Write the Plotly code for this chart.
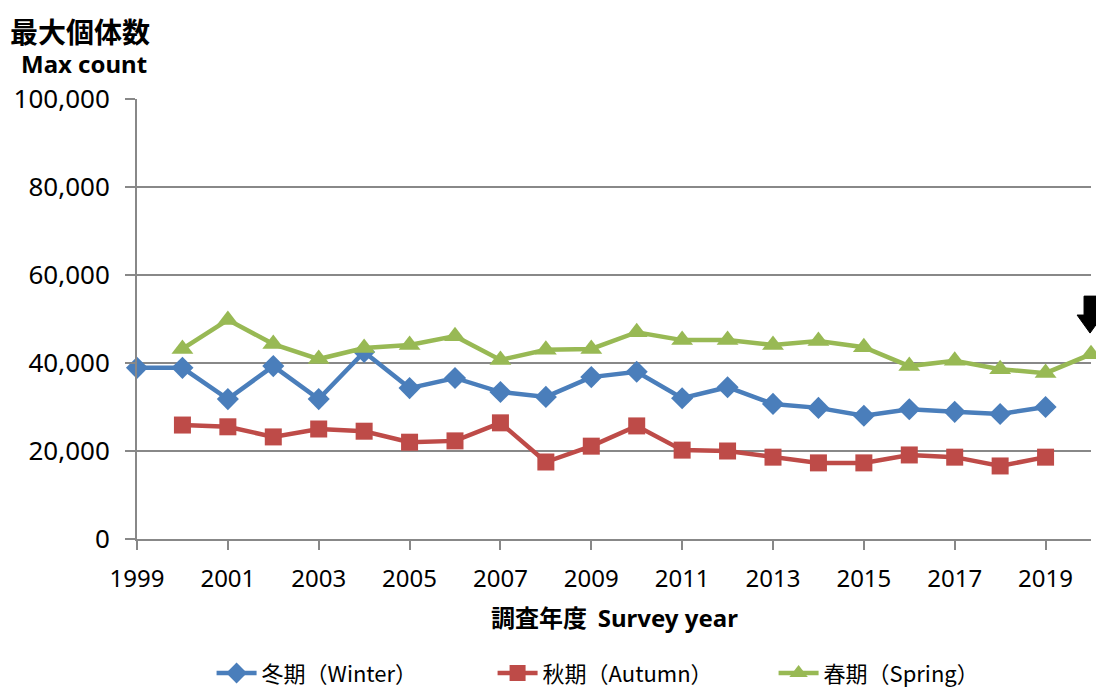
import plotly.graph_objects as go

years = list(range(1999, 2021))
winter = [38900, 38900, 31800, 39300, 31800, 42500, 34300, 36600, 33400, 32300, 36800,
          38000, 32000, 34500, 30700, 29800, 28000, 29500, 28900, 28400, 30000, None]
autumn = [None, 25900, 25500, 23200, 25000, 24500, 22000, 22300, 26400, 17500, 21100,
          25700, 20200, 20000, 18600, 17300, 17300, 19100, 18600, 16600, 18600, None]
spring = [None, 43200, 49800, 44300, 40900, 43400, 44100, 46100, 40700, 43000, 43200,
          47000, 45200, 45200, 44100, 45000, 43600, 39300, 40500, 38600, 37700, 42000]
tick_years = list(range(1999, 2021, 2))
y_ticks = [0, 20000, 40000, 60000, 80000, 100000]
y_labels = ["0", "20,000", "40,000", "60,000", "80,000", "100,000"]

names = ["冬期（Winter）", "秋期（Autumn）", "春期（Spring）"]
colors = ["#4a7ebb", "#be4b48", "#98b954"]
symbols = ["diamond", "square", "triangle-up"]
sizes = [17, 17, 19]

fig = go.Figure()
for vals, name, c, s, sz in zip([winter, autumn, spring], names, colors, symbols, sizes):
    fig.add_trace(go.Scatter(x=years, y=vals, name=name, mode="lines+markers",
                             line=dict(color=c, width=4.5),
                             marker=dict(symbol=s, size=sz, color=c),
                             connectgaps=False, cliponaxis=False))

# downward block arrow above the 2020 spring point (x in paper units, y in data units)
xc, hw, sw = 0.999, 0.0136, 0.0063
y_tip, y_head, y_top = 46800, 50900, 55200
arrow_path = (f"M {xc-sw} {y_top} L {xc+sw} {y_top} L {xc+sw} {y_head} L {xc+hw} {y_head} "
              f"L {xc} {y_tip} L {xc-hw} {y_head} L {xc-sw} {y_head} Z")
fig.add_shape(type="path", xref="paper", yref="y", path=arrow_path,
              fillcolor="black", line=dict(color="black", width=1))

fig.add_annotation(x=-0.135, y=1.205, xref="paper", yref="paper", text="<b>最大個体数</b>",
                   showarrow=False, xanchor="left", yanchor="top",
                   font=dict(size=28, family="Noto Sans CJK JP", color="black"))
fig.add_annotation(x=-0.124, y=1.08, xref="paper", yref="paper", text="<b>Max count</b>",
                   showarrow=False, xanchor="left", yanchor="middle",
                   font=dict(size=24, family="Noto Sans", color="black"))
fig.add_annotation(x=0.501, y=-0.177, xref="paper", yref="paper",
                   text="<b>調査年度</b>  <b><span style='font-family:Noto Sans'>Survey year</span></b>",
                   showarrow=False, xanchor="center", yanchor="middle",
                   font=dict(size=24, family="Noto Sans CJK JP", color="black"))

fig.update_layout(
    width=1096, height=685,
    margin=dict(l=129, r=13, t=91, b=154, autoexpand=False),
    plot_bgcolor="white", paper_bgcolor="white",
    font=dict(family="Noto Sans, Noto Sans CJK JP", size=24, color="black"),
    showlegend=True,
    legend=dict(orientation="h", x=0.52, xanchor="center", y=-0.305, yanchor="middle",
                font=dict(size=22, family="Noto Sans CJK JP"),
                entrywidth=226, entrywidthmode="pixels", itemwidth=40),
    xaxis=dict(range=[1999, 2020], tickmode="array", tickvals=tick_years,
               ticktext=[str(y) for y in tick_years],
               showgrid=False, showline=True, linecolor="#888888", linewidth=2,
               ticks="outside", ticklen=9, tickcolor="#888888", tickwidth=2,
               zeroline=False, tickfont=dict(size=24), ticklabelstandoff=8,
               automargin=False),
    yaxis=dict(range=[0, 100000], tickmode="array", tickvals=y_ticks, ticktext=y_labels,
               showgrid=True, gridcolor="#888888", gridwidth=1.5,
               showline=True, linecolor="#888888", linewidth=2,
               ticks="outside", ticklen=10, tickcolor="#888888", tickwidth=1.5,
               zeroline=False, tickfont=dict(size=26), ticklabelstandoff=10,
               automargin=False),
)

fig.write_html("out.html")
